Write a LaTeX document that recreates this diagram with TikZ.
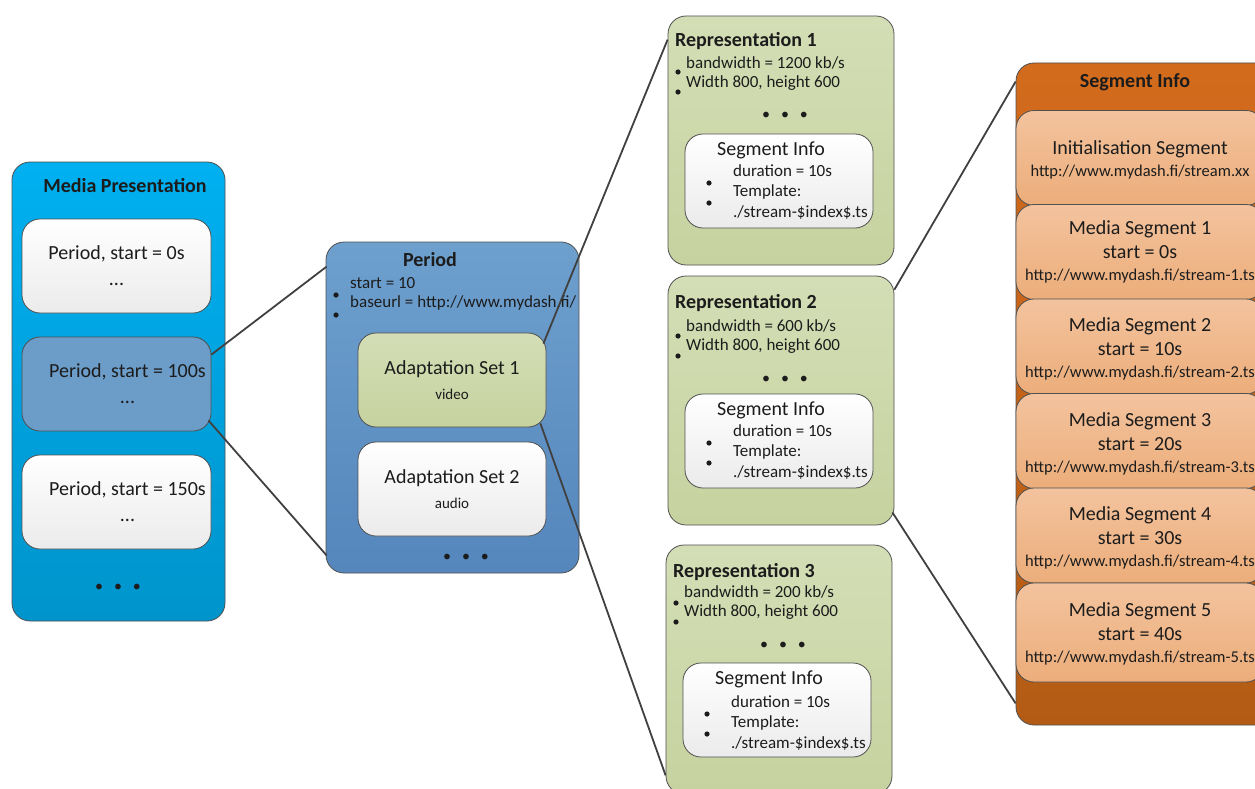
\documentclass[tikz,border=0pt]{standalone}
\usepackage{fontspec}
\setmainfont{Carlito}
\usepackage{tikz}
\usetikzlibrary{positioning}
\definecolor{Ink}{HTML}{1C1C1C}
\definecolor{Edge}{HTML}{505050}
\definecolor{Wire}{HTML}{404040}
\definecolor{Sky}{HTML}{00B0F0}
\definecolor{SkyDark}{HTML}{0094CC}
\definecolor{Steel}{HTML}{6EA0CE}
\definecolor{SteelDark}{HTML}{5586BC}
\definecolor{SteelMid}{HTML}{6C9CC8}
\definecolor{Olive}{HTML}{D4DEB6}
\definecolor{OliveDark}{HTML}{C6D29F}
\definecolor{Rust}{HTML}{D36B1C}
\definecolor{RustDark}{HTML}{B35B15}
\definecolor{Peach}{HTML}{F3C39E}
\definecolor{PeachDark}{HTML}{ECAD7A}
\definecolor{PaperDark}{HTML}{EBEBEB}
\newcommand{\urlsize}{\fontsize{16.5}{20}\selectfont}

\begin{document}
\begin{tikzpicture}[
  x=1pt, y=-1pt,
  text=Ink,
  box/.style={draw=Edge, line width=0.8pt, rounded corners=18pt, inner sep=0pt, align=center},
  whitebox/.style={box, top color=white, bottom color=PaperDark},
  olivebox/.style={box, top color=Olive, bottom color=OliveDark},
  peachbox/.style={box, top color=Peach, bottom color=PeachDark, minimum width=248pt, minimum height=95pt, font=\fontsize{20}{24}\selectfont},
  title/.style={font=\fontsize{20}{24}\selectfont\bfseries, inner sep=0pt},
  big/.style={font=\fontsize{20}{26}\selectfont},
  setbox/.style={font=\fontsize{20}{25}\selectfont, minimum width=188pt, minimum height=94pt},
  small/.style={font=\fontsize{17}{19.5}\selectfont, align=left, inner sep=0pt},
  seginfo/.style={small, font=\fontsize{17}{20.5}\selectfont},
  dots/.style={font=\fontsize{16}{19}\selectfont, inner sep=0pt},
  link/.style={draw=Wire, line width=1.8pt}
]
\useasboundingbox (0,0) rectangle (1255,789);

% media presentation
\node[box, top color=Sky, bottom color=SkyDark, minimum width=213pt, minimum height=459pt] (media) at (118.5,391.5) {};
\node[title] (mediaT) at (125,186) {Media Presentation};
\node[whitebox, big, minimum width=189pt, minimum height=94pt] (per0) at (116.5,266) {Period, start = 0s\\...};
\node[box, big, fill=SteelMid, minimum width=189pt, minimum height=94pt] (per100) at (116.5,384) {\hspace{22pt}Period, start = 100s\\\hspace{22pt}...};
\node[whitebox, big, minimum width=189pt, minimum height=94pt] (per150) at (116.5,502) {\hspace{22pt}Period, start = 150s\\\hspace{22pt}...};
\node[dots] (mediaDots) at (118,588) {\textbullet\hspace{11pt}\textbullet\hspace{11pt}\textbullet};

% period
\node[box, top color=Steel, bottom color=SteelDark, minimum width=253pt, minimum height=331pt] (period) at (452.5,407.5) {};
\node[title] (periodT) at (430,260) {Period};
\node[small, anchor=north west] (periodTxt) at (350,277) {start = 10\\baseurl = http://www.mydash.fi/};
\fill[Ink] (336,295) circle (2.6pt) (336,315) circle (2.6pt);
\node[olivebox, setbox] (as1) at (452,380) {Adaptation Set 1\\{\fontsize{15}{18}\selectfont video}};
\node[whitebox, setbox] (as2) at (452,489) {Adaptation Set 2\\{\fontsize{15}{18}\selectfont audio}};
\node[dots] (periodDots) at (466,558) {\textbullet\hspace{11pt}\textbullet\hspace{11pt}\textbullet};

% representation 1
\node[olivebox, minimum width=226pt, minimum height=249pt] (rep1) at (781,140.5) {};
\node[title, anchor=west] (rep1T) at (675,41) {Representation 1};
\node[small, anchor=north west] (rep1Txt) at (686,56) {bandwidth = 1200 kb/s\\Width 800, height 600};
\fill[Ink] (678,72) circle (2.6pt) (678,92) circle (2.6pt);
\node[dots] (rep1Dots) at (785,116) {\textbullet\hspace{11pt}\textbullet\hspace{11pt}\textbullet};
\node[whitebox, minimum width=188pt, minimum height=94pt] (seg1) at (779,181) {};
\node[big, inner sep=0pt] (seg1T) at (771,150) {Segment Info};
\node[seginfo, anchor=north west] (seg1Txt) at (733,164) {duration = 10s\\Template:\\./stream-\$index\$.ts};
\fill[Ink] (709,183) circle (2.6pt) (709,203) circle (2.6pt);

% representation 2
\node[olivebox, minimum width=226pt, minimum height=249pt] (rep2) at (781,400.5) {};
\node[title, anchor=west] (rep2T) at (675,303) {Representation 2};
\node[small, anchor=north west] (rep2Txt) at (686,319) {bandwidth = 600 kb/s\\Width 800, height 600};
\fill[Ink] (678,336) circle (2.6pt) (678,356) circle (2.6pt);
\node[dots] (rep2Dots) at (785,380) {\textbullet\hspace{11pt}\textbullet\hspace{11pt}\textbullet};
\node[whitebox, minimum width=188pt, minimum height=94pt] (seg2) at (779,441) {};
\node[big, inner sep=0pt] (seg2T) at (771,410) {Segment Info};
\node[seginfo, anchor=north west] (seg2Txt) at (733,424) {duration = 10s\\Template:\\./stream-\$index\$.ts};
\fill[Ink] (709,443) circle (2.6pt) (709,463) circle (2.6pt);

% representation 3
\node[olivebox, minimum width=226pt, minimum height=249pt] (rep3) at (779,669.5) {};
\node[title, anchor=west] (rep3T) at (673,572) {Representation 3};
\node[small, anchor=north west] (rep3Txt) at (684,585) {bandwidth = 200 kb/s\\Width 800, height 600};
\fill[Ink] (676,603) circle (2.6pt) (676,622) circle (2.6pt);
\node[dots] (rep3Dots) at (783,646) {\textbullet\hspace{11pt}\textbullet\hspace{11pt}\textbullet};
\node[whitebox, minimum width=188pt, minimum height=94pt] (seg3) at (777,710) {};
\node[big, inner sep=0pt] (seg3T) at (769,679) {Segment Info};
\node[seginfo, anchor=north west] (seg3Txt) at (731,695) {duration = 10s\\Template:\\./stream-\$index\$.ts};
\fill[Ink] (707,714) circle (2.6pt) (707,734) circle (2.6pt);

% segment info list
\node[box, top color=Rust, bottom color=RustDark, minimum width=262pt, minimum height=662pt] (segs) at (1147,394) {};
\node[title] (segsT) at (1135,82) {Segment Info};
\node[peachbox] (init) at (1140,158) {\rule{0pt}{18pt}Initialisation Segment\\[-2pt]{\urlsize http://www.mydash.fi/stream.xx}};
\node[peachbox] (ms1) at (1140,252) {Media Segment 1\\start = 0s\\[-2pt]{\urlsize http://www.mydash.fi/stream-1.ts}};
\node[peachbox] (ms2) at (1140,346.5) {\rule{0pt}{19pt}Media Segment 2\\start = 10s\\[-2pt]{\urlsize http://www.mydash.fi/stream-2.ts}};
\node[peachbox] (ms3) at (1140,441) {\rule{0pt}{19pt}Media Segment 3\\start = 20s\\[-2pt]{\urlsize http://www.mydash.fi/stream-3.ts}};
\node[peachbox] (ms4) at (1140,535.5) {\rule{0pt}{19pt}Media Segment 4\\start = 30s\\[-2pt]{\urlsize http://www.mydash.fi/stream-4.ts}};
\node[peachbox, minimum height=99pt] (ms5) at (1140,632.5) {\rule{0pt}{17pt}Media Segment 5\\start = 40s\\[-2pt]{\urlsize http://www.mydash.fi/stream-5.ts}};

% connectors
\draw[link] ([yshift=-18pt]per100.north east) -- ([xshift=1pt,yshift=-25pt]period.north west);
\draw[link] ([xshift=-3pt,yshift=11pt]per100.south east) -- ([xshift=1pt,yshift=18pt]period.south west);
\draw[link] ([xshift=-3pt,yshift=-11pt]as1.north east) -- ([yshift=-24pt]rep1.north west);
\draw[link] ([xshift=-6pt,yshift=4pt]as1.south east) -- ([yshift=19pt]rep3.south west);
\draw[link] ([yshift=-14pt]rep2.north east) -- ([yshift=-19pt]segs.north west);
\draw[link] ([xshift=-2pt,yshift=13pt]rep2.south east) -- ([yshift=22pt]segs.south west);
\end{tikzpicture}
\end{document}
